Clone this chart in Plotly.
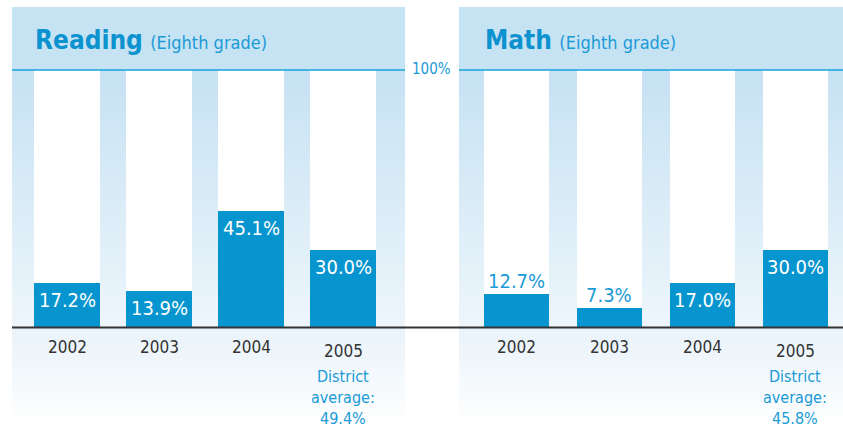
import plotly.graph_objects as go

# ---------------- data ----------------
years = ["2002", "2003", "2004", "2005"]
reading_pct = [17.2, 13.9, 45.1, 30.0]
math_pct = [12.7, 7.3, 17.0, 30.0]
reading_district_avg = 49.4
math_district_avg = 45.8
panel_titles = ["Reading", "Math"]
panel_subtitle = "(Eighth grade)"
scale_max = 100

# ---------------- style ----------------
W, H = 843, 428
FONT = "DejaVu Sans Condensed, Roboto Condensed, Roboto, sans-serif"
BAR = "#0795d0"
BLUE_TXT = "#1a9ad6"
TITLE_BLUE = "#0b92cf"
HEADER = "#c6e3f4"
LINE_BLUE = "#18a2dc"
DARK = "#333333"


def px(x):
    return x / W


def py(y):
    return 1 - y / H


# pixel geometry of the two panels
panels_px = [(12, 405), (459, 843)]
y_top, y_100, y_base, y_bot = 7, 70, 327, 428
k = (y_base - y_100) / scale_max
ymax = scale_max + y_100 / k
ymin = -(H - y_base) / k

fig = go.Figure()

series = [reading_pct, math_pct]
avgs = [reading_district_avg, math_district_avg]
xaxes = ["x", "x2"]
yaxes = ["y", "y2"]
bar_w = [0.707, 0.70]
xranges = [[-0.598, 3.674], [-0.618, 3.511]]

shapes = []
annotations = []


def lerp(c1, c2, t):
    return "rgb(%d,%d,%d)" % tuple(round(a + (b - a) * t) for a, b in zip(c1, c2))


for p, (x0, x1) in enumerate(panels_px):
    # header band
    shapes.append(dict(type="rect", xref="paper", yref="paper", x0=px(x0), x1=px(x1),
                       y0=py(y_100), y1=py(y_top), fillcolor=HEADER, line_width=0, layer="below"))
    # gradient stripes above baseline
    n = 40
    c_top, c_bot = (198, 226, 243), (237, 245, 251)
    for i in range(n):
        a = y_100 + (y_base - y_100) * i / n
        b = y_100 + (y_base - y_100) * (i + 1) / n + 0.6
        shapes.append(dict(type="rect", xref="paper", yref="paper", x0=px(x0), x1=px(x1),
                           y0=py(b), y1=py(a), fillcolor=lerp(c_top, c_bot, i / (n - 1)),
                           line_width=0, layer="below"))
    # gradient below baseline
    n2 = 25
    c1, c2 = (233, 243, 250), (255, 255, 255)
    for i in range(n2):
        a = y_base + (y_bot - y_base) * i / n2
        b = y_base + (y_bot - y_base) * (i + 1) / n2 + 0.6
        shapes.append(dict(type="rect", xref="paper", yref="paper", x0=px(x0), x1=px(x1),
                           y0=py(b), y1=py(a), fillcolor=lerp(c1, c2, i / (n2 - 1)),
                           line_width=0, layer="below"))
    # 100% line
    shapes.append(dict(type="line", xref="paper", yref="paper", x0=px(x0), x1=px(x1),
                       y0=py(y_100), y1=py(y_100), line=dict(color=LINE_BLUE, width=1.5)))

# baseline across the whole chart
shapes.append(dict(type="line", xref="paper", yref="paper", x0=px(12), x1=px(843),
                   y0=py(y_base + 0.5), y1=py(y_base + 0.5), line=dict(color=DARK, width=2)))

for p in range(2):
    vals = series[p]
    xa, ya = xaxes[p], yaxes[p]
    # white slots
    fig.add_trace(go.Bar(x=years, y=[scale_max] * len(years), width=bar_w[p],
                         marker=dict(color="white", line_width=0), xaxis=xa, yaxis=ya,
                         hoverinfo="skip", showlegend=False))
    fig.add_trace(go.Bar(x=years, y=vals, width=bar_w[p],
                         marker=dict(color=BAR, line_width=0), xaxis=xa, yaxis=ya,
                         showlegend=False))
    for i, v in enumerate(vals):
        inside = v >= 13.5
        annotations.append(dict(x=i, y=v, xref=xa, yref=ya, text="%.1f%%" % v,
                                showarrow=False, yanchor="middle",
                                yshift=-17 if inside else 13,
                                font=dict(family=FONT, size=20,
                                          color="white" if inside else BLUE_TXT)))
    for i, yr in enumerate(years):
        last = i == len(years) - 1
        annotations.append(dict(x=i, y=py(351 if last else 347), xref=xa, yref="paper",
                                text=yr, showarrow=False, yanchor="middle",
                                font=dict(family=FONT, size=17, color=DARK)))
    annotations.append(dict(x=len(years) - 1, y=py(397), xref=xa, yref="paper",
                            text="District<br>average:<br>%.1f%%" % avgs[p],
                            showarrow=False, yanchor="middle",
                            font=dict(family=FONT, size=16, color=BLUE_TXT)))
    tx = [33, 483][p]
    annotations.append(dict(x=px(tx), y=py(40), xref="paper", yref="paper", xanchor="left",
                            yanchor="middle", showarrow=False,
                            text="<b>%s</b> <span style='font-size:18px;color:%s'>%s</span>"
                                 % (panel_titles[p], BLUE_TXT, panel_subtitle),
                            font=dict(family=FONT, size=26, color=TITLE_BLUE)))

annotations.append(dict(x=px(431), y=py(69), xref="paper", yref="paper", text="100%",
                        showarrow=False, yanchor="middle",
                        font=dict(family=FONT, size=15, color=BLUE_TXT)))

fig.update_layout(
    width=W, height=H, margin=dict(l=0, r=0, t=0, b=0),
    paper_bgcolor="white", plot_bgcolor="rgba(0,0,0,0)",
    barmode="overlay", bargap=0, showlegend=False,
    xaxis=dict(type="category", domain=[px(12), px(405)], range=xranges[0], visible=False,
               fixedrange=True),
    xaxis2=dict(type="category", domain=[px(459), px(843)], range=xranges[1], visible=False,
                fixedrange=True),
    yaxis=dict(domain=[0, 1], range=[ymin, ymax], visible=False, fixedrange=True),
    yaxis2=dict(domain=[0, 1], range=[ymin, ymax], visible=False, anchor="x2",
                fixedrange=True),
    shapes=shapes, annotations=annotations,
    font=dict(family=FONT),
)

fig.write_html("out.html", config={"displayModeBar": False},
               post_script="document.body.style.margin='0';")
